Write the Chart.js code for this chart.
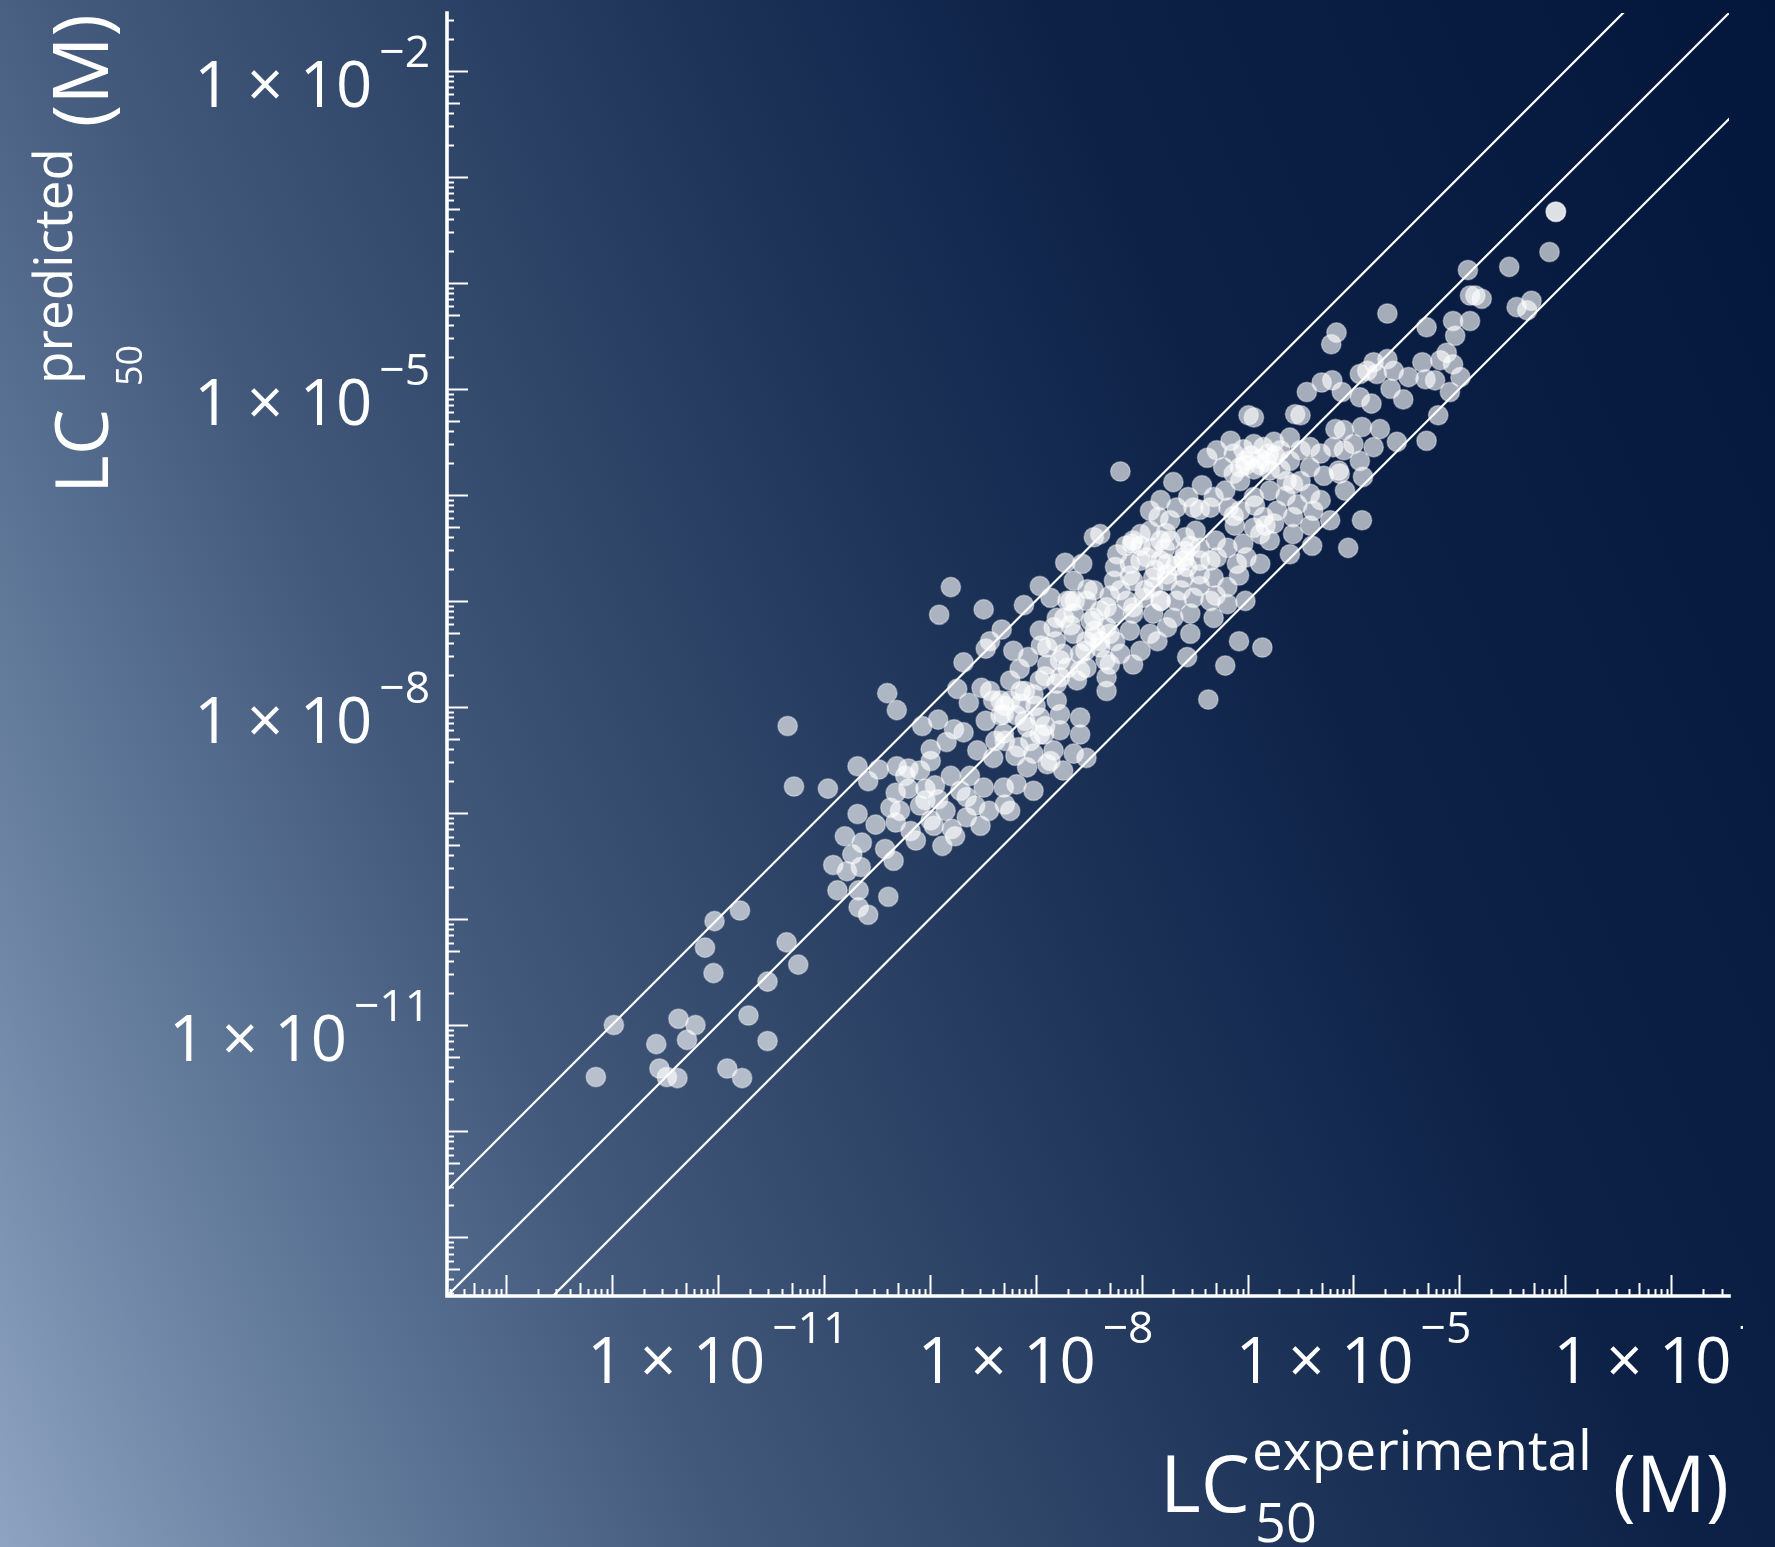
<!DOCTYPE html>
<html>
<head>
<meta charset="utf-8">
<script src="https://cdn.jsdelivr.net/npm/chart.js@4"></script>
<style>
html,body{margin:0;padding:0;background:#1c2f52;}
#wrap{width:1775px;height:1547px;position:relative;overflow:hidden;}
canvas{display:block;}
</style>
</head>
<body>
<div id="wrap"><canvas id="c" width="1775" height="1547"></canvas></div>
<script>
// ---------------- DATA ----------------
// Each pair: [log10 LC50 experimental (M), log10 LC50 predicted (M)]
const lc50Log10 = [
  [-10.34,-8.18],[-10.28,-8.75],[-9.96,-8.77],[-9.40,-7.87],[-9.31,-8.03],[-9.68,-8.56],[-9.58,-8.70],[-9.48,-8.59],[-9.31,-8.56],[-9.20,-8.58],
  [-9.07,-8.18],[-8.92,-8.12],[-8.77,-8.21],[-8.68,-8.24],[-8.84,-8.33],[-8.99,-8.40],[-8.99,-8.51],[-8.74,-7.83],[-8.63,-7.96],[-8.51,-7.82],
  [-8.68,-7.58],[-8.40,-7.94],[-8.30,-8.07],[-8.55,-8.41],[-8.40,-8.48],[-8.62,-8.65],[-8.49,-8.76],[-9.32,-8.81],[-9.20,-8.77],[-9.04,-8.77],
  [-8.92,-8.87],[-9.09,-8.93],[-9.37,-8.95],[-9.68,-9.01],[-9.32,-9.09],[-9.18,-9.17],[-9.51,-9.11],[-9.80,-9.22],[-9.64,-9.28],[-9.73,-9.39],
  [-9.91,-9.49],[-9.78,-9.55],[-9.65,-9.51],[-9.42,-9.34],[-9.34,-9.45],[-9.87,-9.73],[-9.67,-9.73],[-9.39,-9.79],[-9.67,-9.89],[-9.58,-9.96],
  [-8.96,-9.12],[-8.88,-9.31],[-8.79,-9.15],[-8.65,-9.04],[-8.52,-9.12],[-8.44,-8.98],[-8.65,-8.85],[-8.29,-8.92],[-8.29,-8.32],
  [-10.79,-9.92],[-11.03,-10.02],[-11.12,-10.27],[-11.04,-10.51],[-10.35,-10.22],[-10.24,-10.43],[-10.53,-10.59],[-10.71,-10.91],[-10.53,-11.15],
  [-11.98,-11.00],[-11.37,-10.94],[-11.21,-11.00],[-11.58,-11.18],[-11.29,-11.14],[-12.15,-11.49],[-11.55,-11.41],[-11.48,-11.49],[-11.38,-11.50],
  [-10.91,-11.41],[-10.77,-11.50],
  [-8.80,-6.87],[-8.91,-7.13],[-8.49,-7.08],[-7.20,-5.78],[-7.96,-6.86],[-8.11,-7.04],[-8.32,-7.27],[-8.43,-7.38],[-8.47,-7.45],[-8.21,-7.47],
  [-8.07,-7.53],[-8.24,-7.75],[-8.18,-8.08],[-8.30,-8.25],[-8.16,-8.38],[-8.30,-8.76],
  [-5.99,-5.25],[-5.94,-5.27],[-5.55,-5.24],[-5.50,-5.25],[-5.17,-5.38],[-5.09,-5.39],
  [-6.38,-5.65],[-6.29,-5.58],[-6.13,-5.61],[-6.04,-5.57],[-5.94,-5.52],[-5.85,-5.55],[-5.75,-5.50],[-5.69,-5.58],[-5.60,-5.46],[-5.50,-5.58],
  [-5.41,-5.55],[-5.31,-5.61],[-5.19,-5.55],[-5.09,-5.58],[-6.07,-5.74],[-5.94,-5.76],[-5.82,-5.69],[-5.69,-5.76],[-5.41,-5.74],[-5.28,-5.82],
  [-5.13,-5.80],[-6.23,-5.74],[-6.13,-5.80],
  [-6.70,-5.88],[-6.56,-6.02],[-6.43,-5.91],[-6.32,-6.02],[-6.18,-6.12],[-6.07,-6.15],[-5.94,-6.02],[-5.79,-5.96],[-5.57,-5.90],[-5.41,-5.99],
  [-5.53,-6.09],[-5.72,-6.15],[-5.85,-6.21],[-6.82,-6.05],[-6.67,-6.12],[-6.92,-6.15],[-6.84,-6.21],[-6.51,-6.12],[-6.35,-6.12],[-5.38,-6.15],
  [-5.57,-6.21],[-6.13,-6.20],
  [-7.01,-6.37],[-7.08,-6.43],[-6.89,-6.50],[-6.73,-6.43],[-6.59,-6.40],[-6.45,-6.50],[-6.30,-6.43],[-6.19,-6.50],[-6.04,-6.46],[-5.88,-6.37],
  [-5.79,-6.43],[-5.57,-6.37],[-5.39,-6.48],[-5.05,-6.50],[-5.75,-6.27],[-5.94,-6.31],[-6.01,-6.59],[-5.88,-6.65],[-6.10,-6.65],[-6.29,-6.59],
  [-6.45,-6.62],[-6.60,-6.62],[-6.76,-6.65],[-6.95,-6.59],[-7.11,-6.65],[-7.23,-6.56],[-7.39,-6.37],[-7.45,-6.40],[-7.72,-6.64],[-7.56,-6.65],
  [-7.64,-6.81],[-7.45,-6.90],[-7.26,-6.81],[-7.08,-6.81],[-6.89,-6.78],[-6.76,-6.81],[-6.60,-6.78],[-6.45,-6.75],[-6.32,-6.78],[-6.19,-6.87],
  [-6.08,-6.76],[-6.02,-7.00],[-6.19,-7.03],[-6.35,-7.00],[-6.51,-6.97],[-6.67,-7.00],[-6.82,-7.00],[-6.98,-6.97],[-7.14,-7.00],[-7.33,-7.06],
  [-7.52,-7.00],[-7.70,-7.00],[-7.86,-6.97],[-7.80,-7.16],[-7.64,-7.12],[-7.45,-7.16],[-7.26,-7.12],[-7.08,-7.12],[-6.89,-7.12],[-6.70,-7.16],
  [-6.54,-7.12],[-6.32,-7.16],
  [-7.83,-7.25],[-7.64,-7.31],[-7.45,-7.34],[-7.30,-7.31],[-7.11,-7.28],[-6.92,-7.31],[-6.76,-7.25],[-6.54,-7.31],[-7.89,-7.44],[-7.74,-7.50],
  [-7.58,-7.50],[-7.39,-7.44],[-7.20,-7.50],[-7.01,-7.47],[-6.85,-7.38],[-6.57,-7.53],[-6.08,-7.38],[-5.86,-7.44],[-6.21,-7.61],[-6.37,-7.93],
  [-7.08,-7.60],[-7.30,-7.60],[-7.52,-7.63],[-7.70,-7.63],[-7.89,-7.60],
  [-7.96,-7.75],[-7.80,-7.78],[-7.61,-7.75],[-7.33,-7.72],[-7.33,-7.85],[-7.80,-7.94],[-8.02,-7.88],[-8.14,-7.97],[-7.96,-8.10],[-7.77,-8.07],
  [-7.58,-8.10],[-8.08,-8.19],[-7.92,-8.26],[-7.77,-8.22],[-7.58,-8.26],
  [-8.02,-8.44],[-7.83,-8.41],[-7.64,-8.44],[-7.52,-8.48],[-7.89,-8.54],[-7.74,-8.60],[-8.08,-8.57],[-8.18,-8.73],[-8.02,-8.79],[-8.24,-8.98],
  [-5.63,-5.87],[-5.60,-6.56],
  [-6.76,-6.75],[-6.82,-6.62],[-6.60,-6.59],[-6.57,-6.68],[-6.89,-6.87],[-7.08,-7.06],[-7.33,-7.25],[-7.39,-7.38],[-7.52,-7.38],[-7.77,-7.72],
  [-7.96,-8.26],[-8.33,-7.94],
  [-7.15,-6.48],[-7.01,-6.62],[-6.92,-6.34],[-6.78,-6.51],[-6.68,-6.67],[-6.54,-6.48],[-6.45,-6.86],[-6.35,-6.62],[-6.63,-6.90],[-6.97,-6.90],
  [-7.11,-6.76],[-6.82,-7.00],[-6.49,-6.34],[-6.30,-6.95],[-6.73,-6.24],[-7.20,-6.90],
  [-7.96,-7.28],[-7.81,-7.38],[-7.67,-7.23],[-7.53,-7.47],[-7.44,-7.28],[-7.34,-7.56],[-7.58,-7.66],[-7.77,-7.56],[-7.91,-7.71],[-7.25,-7.38],
  [-7.67,-7.00],[-7.39,-7.09],
  [-8.43,-7.85],[-8.29,-7.99],[-8.14,-7.85],[-8.00,-7.99],[-7.91,-8.18],[-8.05,-8.32],[-8.19,-8.46],[-8.38,-8.32],[-8.10,-8.13],[-7.86,-8.51],
  [-8.47,-8.13],
  [-9.23,-8.65],[-9.09,-8.60],[-8.95,-8.74],[-8.80,-8.65],[-8.71,-8.79],[-8.85,-8.98],[-8.99,-9.07],[-9.13,-9.26],[-9.28,-8.98],[-8.57,-8.93],
  [-8.76,-9.22],[-9.04,-8.88],
  [-6.21,-5.96],[-6.07,-5.87],[-5.93,-6.10],[-5.79,-5.77],[-5.64,-6.01],[-5.97,-5.63],[-5.83,-6.29],[-6.12,-6.29],[-5.60,-5.68],[-5.50,-5.87],
  [-5.31,-6.05],[-5.22,-6.24],[-5.08,-5.96],[-5.41,-6.29],[-5.14,-5.77],[-6.16,-5.49],[-5.88,-5.66],[-6.02,-5.68],
  [-7.01,-6.48],[-6.82,-6.43],[-6.59,-6.53],[-6.87,-6.71],[-7.63,-7.00],[-7.48,-7.19],[-7.30,-6.95],[-5.88,-5.72],[-5.74,-5.63],[-8.24,-7.94],
  [-8.10,-7.85],[-8.33,-8.08],
  [-7.09,-6.46],[-6.77,-6.36],[-7.51,-6.89],[-7.25,-6.68],[-7.73,-7.16],[-6.45,-6.14],[-6.02,-5.72],[-8.15,-7.64],[-7.95,-7.42],[-5.80,-5.61],
  [-3.09,-3.33],[-3.09,-3.33],[-3.15,-3.71],[-3.53,-3.85],[-3.92,-3.88],[-3.90,-4.12],[-3.85,-4.12],[-3.79,-4.15],[-3.46,-4.23],[-3.32,-4.17],
  [-3.36,-4.26],[-4.06,-4.36],[-3.90,-4.36],[-4.04,-4.50],[-4.31,-4.42],[-4.68,-4.29],[-5.16,-4.47],[-5.21,-4.58],
  [-4.68,-4.72],[-4.81,-4.75],[-4.87,-4.83],[-4.94,-4.86],[-4.78,-4.86],[-4.62,-4.83],[-4.48,-4.89],[-4.35,-4.75],[-4.32,-4.91],[-4.23,-4.92],
  [-4.18,-4.73],[-4.12,-4.66],[-4.06,-4.77],[-3.99,-4.89],[-4.09,-5.03],[-4.20,-5.25],[-4.31,-5.49],[-4.59,-5.50],[-4.81,-5.55],[-4.94,-5.68],
  [-4.91,-5.83],[-4.53,-5.10],[-4.65,-5.00],[-4.83,-5.14],[-4.94,-5.08],[-5.11,-5.03],[-5.20,-4.92],[-5.30,-4.94],[-5.44,-5.03],[-4.92,-5.36],
  [-4.75,-5.38],[-5.00,-5.52],[-4.92,-6.24]
];
const experimentalLog10 = lc50Log10.map(p => p[0]);
const predictedLog10 = lc50Log10.map(p => p[1]);

const axisLog10Range = [-13.555, -1.456];      // both axes
const labelledExponents = [-11, -8, -5, -2];    // tick labels "1 × 10^n"
const referenceFactors = [10, 1, 0.1];           // y = 10x, y = x, y = x/10
const referenceXSpan = [1e-16, 1];

// ---------------- STYLE ----------------
const FONT = '"Open Sans", "Lato", "DejaVu Sans", sans-serif';
const W = 400;

const points = experimentalLog10.map((e, i) => ({ x: Math.pow(10, e), y: Math.pow(10, predictedLog10[i]) }));
const refDatasets = referenceFactors.map(f => ({
  type: 'line',
  data: referenceXSpan.map(x => ({ x: x, y: x * f })),
  borderColor: '#ffffff',
  borderWidth: 2.2,
  pointRadius: 0,
  fill: false,
  order: 0
}));

function logTickList(min, max) {
  const ticks = [];
  for (let e = -15; e <= 0; e++) {
    for (let m = 1; m <= 9; m++) {
      const v = m * Math.pow(10, e);
      if (v >= min && v <= max) ticks.push({ value: v, significand: m });
    }
  }
  return ticks;
}

function tickLen(m) { return m === 1 ? 21 : (m === 5 ? 13 : 7); }

function drawSci(ctx, exp, x, baseline, align, mainSize, supSize) {
  const main = '1 \u00d7 10', sup = '\u2212' + Math.abs(exp);
  ctx.font = W + ' ' + mainSize + 'px ' + FONT;
  const wm = ctx.measureText(main).width;
  ctx.font = W + ' ' + supSize + 'px ' + FONT;
  const ws = ctx.measureText(sup).width;
  const gap = 7;
  const total = wm + gap + ws;
  const x0 = align === 'right' ? x - total : x - total / 2;
  ctx.textAlign = 'left';
  ctx.textBaseline = 'alphabetic';
  ctx.font = W + ' ' + mainSize + 'px ' + FONT;
  ctx.fillText(main, x0, baseline);
  ctx.font = W + ' ' + supSize + 'px ' + FONT;
  ctx.fillText(sup, x0 + wm + gap, baseline - 40);
}

function fitSize(ctx, text, targetW, base) {
  ctx.font = W + ' ' + base + 'px ' + FONT;
  const w = ctx.measureText(text).width;
  return base * targetW / w;
}

const decor = {
  id: 'decor',
  beforeDraw(chart) {
    const ctx = chart.ctx;
    const g = ctx.createLinearGradient(0, 1547, 2061, 681);
    g.addColorStop(0.00, '#8ea3c1');
    g.addColorStop(0.10, '#7188a8');
    g.addColorStop(0.20, '#587091');
    g.addColorStop(0.30, '#43597c');
    g.addColorStop(0.42, '#30476a');
    g.addColorStop(0.55, '#1d3358');
    g.addColorStop(0.70, '#0d2147');
    g.addColorStop(1.00, '#03163b');
    ctx.save();
    ctx.fillStyle = g;
    ctx.fillRect(0, 0, chart.width, chart.height);
    ctx.restore();
  },
  afterDraw(chart) {
    const ctx = chart.ctx, a = chart.chartArea;
    const xs = chart.scales.x, ys = chart.scales.y;
    ctx.save();
    ctx.strokeStyle = '#ffffff';
    ctx.fillStyle = '#ffffff';
    // ticks (inward)
    ctx.lineWidth = 2;
    ctx.lineCap = 'butt';
    logTickList(xs.min, xs.max).forEach(t => {
      const p = Math.round(xs.getPixelForValue(t.value)) + 0.5;
      ctx.beginPath(); ctx.moveTo(p, a.bottom); ctx.lineTo(p, a.bottom - tickLen(t.significand)); ctx.stroke();
    });
    logTickList(ys.min, ys.max).forEach(t => {
      const p = Math.round(ys.getPixelForValue(t.value)) + 0.5;
      ctx.beginPath(); ctx.moveTo(a.left, p); ctx.lineTo(a.left + tickLen(t.significand), p); ctx.stroke();
    });
    // axes
    ctx.lineWidth = 3.6;
    ctx.lineCap = 'square';
    ctx.beginPath();
    ctx.moveTo(a.left, a.top);
    ctx.lineTo(a.left, a.bottom);
    ctx.lineTo(a.right, a.bottom);
    ctx.stroke();

    // tick labels
    const mainSize = Math.max(54, Math.min(70, fitSize(ctx, '1 \u00d7 10', 178, 60)));
    const supSize = mainSize * 0.7;
    labelledExponents.forEach(e => {
      const py = ys.getPixelForValue(Math.pow(10, e));
      drawSci(ctx, e, a.left - 17, py + 36, 'right', mainSize, supSize);
    });
    ctx.save();
    ctx.beginPath(); ctx.rect(0, 0, 1743, chart.height); ctx.clip();
    labelledExponents.forEach(e => {
      const px = xs.getPixelForValue(Math.pow(10, e));
      drawSci(ctx, e, px, a.bottom + 87, 'center', mainSize, supSize);
    });
    ctx.restore();

    // x title
    ctx.textBaseline = 'alphabetic';
    ctx.textAlign = 'left';
    ctx.font = W + ' 78px ' + FONT;
    ctx.fillText('LC', 1160, 1512);
    const expSize = fitSize(ctx, 'experimental', 340, 54);
    ctx.font = W + ' ' + expSize + 'px ' + FONT;
    ctx.fillText('experimental', 1252, 1470);
    ctx.font = W + ' 54px ' + FONT;
    ctx.fillText('50', 1255, 1542);
    ctx.textAlign = 'right';
    ctx.font = W + ' 78px ' + FONT;
    ctx.fillText('(M)', a.right, 1512);

    // y title (rotated)
    ctx.save();
    ctx.translate(108, 494);
    ctx.rotate(-Math.PI / 2);
    ctx.textAlign = 'left';
    ctx.font = W + ' 74px ' + FONT;
    ctx.fillText('LC', 0, 0);
    const preSize = fitSize(ctx, 'predicted', 236, 50);
    ctx.font = W + ' ' + preSize + 'px ' + FONT;
    ctx.fillText('predicted', 110, -36);
    ctx.font = W + ' 36px ' + FONT;
    ctx.fillText('50', 108, 34);
    ctx.textAlign = 'right';
    ctx.font = W + ' 76px ' + FONT;
    ctx.fillText('(M)', 480, 0);
    ctx.restore();

    ctx.restore();
  }
};

const chart = new Chart(document.getElementById('c'), {
  type: 'scatter',
  data: {
    datasets: [
      {
        type: 'scatter',
        label: 'LC50',
        data: points,
        backgroundColor: 'rgba(255,255,255,0.63)',
        borderColor: 'rgba(255,255,255,0.35)',
        borderWidth: 1.5,
        pointRadius: 9.8,
        order: 1
      },
      ...refDatasets
    ]
  },
  options: {
    responsive: false,
    animation: false,
    devicePixelRatio: 1,
    layout: { padding: { left: 447, right: 46, top: 13, bottom: 251 } },
    plugins: { legend: { display: false }, tooltip: { enabled: false } },
    scales: {
      x: {
        type: 'logarithmic',
        min: Math.pow(10, axisLog10Range[0]),
        max: Math.pow(10, axisLog10Range[1]),
        display: false,
        ticks: { autoSkip: false }
      },
      y: {
        type: 'logarithmic',
        min: Math.pow(10, axisLog10Range[0]),
        max: Math.pow(10, axisLog10Range[1]),
        display: false,
        ticks: { autoSkip: false }
      }
    }
  },
  plugins: [decor]
});
</script>
</body>
</html>
